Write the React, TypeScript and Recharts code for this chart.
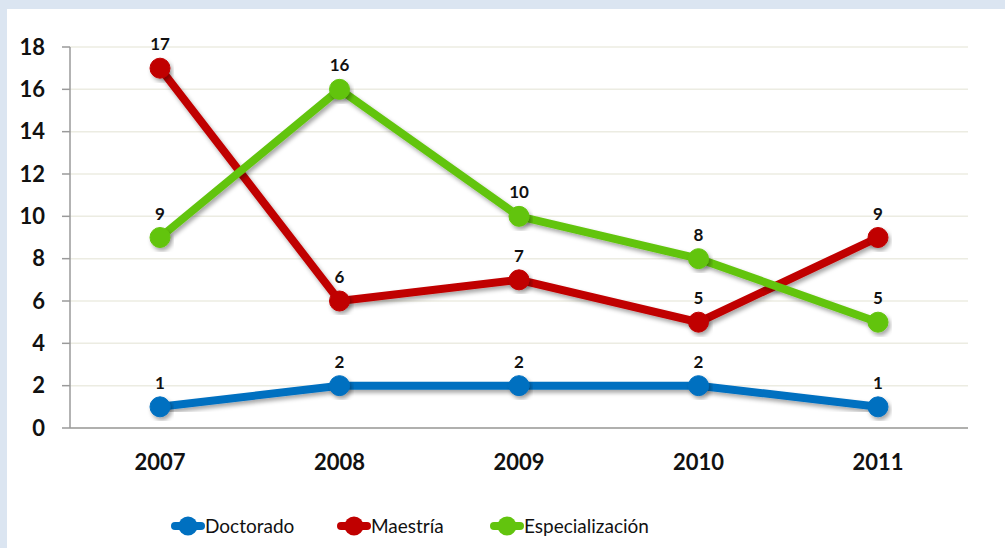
import React from "react";
import { LineChart, Line, XAxis, YAxis, CartesianGrid, LabelList } from "recharts";

const years = ["2007", "2008", "2009", "2010", "2011"];
const doctorado = [1, 2, 2, 2, 1];
const maestria = [17, 6, 7, 5, 9];
const especializacion = [9, 16, 10, 8, 5];
const yTicks = [0, 2, 4, 6, 8, 10, 12, 14, 16, 18];

const data = years.map((y, i) => ({
  year: y,
  Doctorado: doctorado[i],
  "Maestría": maestria[i],
  "Especialización": especializacion[i],
}));

const series = [
  { key: "Doctorado", color: "#0070c0", legendX: 171 },
  { key: "Maestría", color: "#c00000", legendX: 337 },
  { key: "Especialización", color: "#62c40e", legendX: 490 },
];

const FONT = "Lato, 'Open Sans', sans-serif";

const LegendIcon = ({ color }: { color: string }) => (
  <svg width={34} height={22} style={{ display: "block" }}>
    <line x1={4} y1={11} x2={30} y2={11} stroke={color} strokeWidth={8} strokeLinecap="round" />
    <circle cx={17} cy={11} r={9.5} fill={color} />
  </svg>
);

export default function App() {
  return (
    <div style={{ position: "fixed", left: 0, top: 0, width: 1005, height: 548, background: "#dbe5f1", overflow: "hidden" }}>
      <div style={{ position: "absolute", left: 7, top: 9, width: 998, height: 539, background: "#ffffff" }} />
      <div style={{ position: "absolute", left: 0, top: 0 }}>
        <LineChart width={1005} height={548} data={data} margin={{ top: 47, right: 37, left: 0, bottom: 60 }}>
          <defs>
            <filter id="shadow2" x="-20%" y="-20%" width="140%" height="140%">
              <feDropShadow dx={2} dy={3} stdDeviation={2} floodColor="#000" floodOpacity={0.35} />
            </filter>
          </defs>
          <CartesianGrid vertical={false} stroke="#ecece2" strokeWidth={1.5} />
          <XAxis
            dataKey="year"
            padding={{ left: 90, right: 90 }}
            axisLine={{ stroke: "#9a9a9a", strokeWidth: 1.5 }}
            tickLine={false}
            height={60}
            tickMargin={20}
            tick={{ fill: "#111", fontSize: 22, fontWeight: 700, fontFamily: FONT }}
          />
          <YAxis
            domain={[0, 18]}
            ticks={yTicks}
            width={70}
            axisLine={{ stroke: "#9a9a9a", strokeWidth: 1.5 }}
            tickLine={{ stroke: "#9a9a9a", strokeWidth: 1.5 }}
            tickSize={8}
            tickMargin={17}
            interval={0}
            tick={{ fill: "#111", fontSize: 22, fontWeight: 700, fontFamily: FONT }}
          />
          {series.map((s) => (
            <Line
              key={s.key}
              dataKey={s.key}
              stroke={s.color}
              strokeWidth={8}
              isAnimationActive={false}
              dot={{ r: 10, fill: s.color, stroke: s.color, strokeWidth: 1 }}
              activeDot={false}
              style={{ filter: "url(#shadow2)" }}
            >
              <LabelList
                dataKey={s.key}
                position="top"
                offset={18}
                style={{ fill: "#111", fontSize: 17, fontWeight: 700, fontFamily: FONT }}
              />
            </Line>
          ))}
        </LineChart>
      </div>
      {series.map((s) => (
        <div
          key={s.key}
          style={{
            position: "absolute",
            top: 514,
            left: s.legendX,
            display: "flex",
            alignItems: "center",
            fontFamily: FONT,
            fontSize: 19,
            color: "#111",
            whiteSpace: "nowrap",
          }}
        >
          <LegendIcon color={s.color} />
          <span>{s.key}</span>
        </div>
      ))}
    </div>
  );
}
